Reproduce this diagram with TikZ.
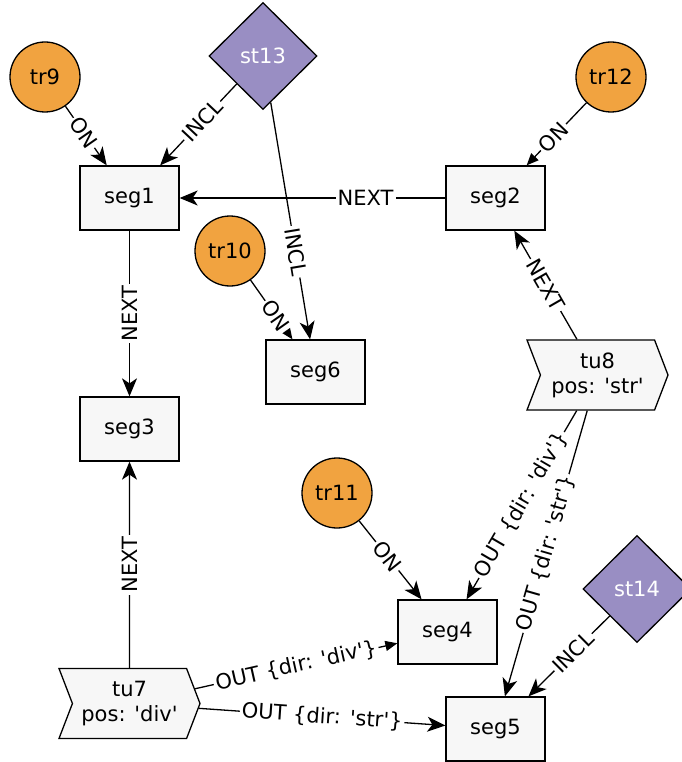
\documentclass[tikz,border=0pt]{standalone}
\usepackage{fontspec}
\setmainfont{DejaVu Sans}
\usetikzlibrary{arrows.meta,shapes.geometric,shapes.symbols}
\definecolor{trorange}{HTML}{F1A340}
\definecolor{stpurple}{HTML}{998EC3}
\definecolor{segfill}{HTML}{F7F7F7}
\newcommand{\qs}{\textquotesingle}
\tikzset{
  txt/.style={font=\fontsize{21}{25}\selectfont},
  seg/.style={draw=black, fill=segfill, rectangle, minimum width=99pt, minimum height=64pt, txt},
  tr/.style={draw=black, fill=trorange, circle, minimum size=70pt, inner sep=0pt, txt},
  st/.style={draw=black, fill=stpurple, diamond, minimum width=108pt, minimum height=107pt, inner sep=0pt, text=white, txt},
  tu/.style={draw=black, fill=segfill, signal, signal to=east, signal from=west, signal pointer angle=138, minimum width=141pt, minimum height=70pt, inner sep=2pt, align=center, txt},
  elab/.style={fill=white, inner sep=2pt, txt},
  vee/.style={-{Stealth[length=18pt,width=15pt,inset=5pt]}},
  tri/.style={-{Triangle[length=12pt,width=10pt]}},
}

\begin{document}
\begin{tikzpicture}[x=1pt, y=1pt, line width=1.3pt]
      \useasboundingbox (0,0) rectangle (681,-762);

      \node[tr, name=tr9] at (45,-77) {tr9};
      \node[st, name=st13] at (263,-56) {st13};
      \node[tr, name=tr12] at (611,-77) {tr12};
      \node[seg, name=seg1] at (129.5,-198) {seg1};
      \node[seg, name=seg2] at (495.5,-198) {seg2};
      \node[tr, name=tr10] at (230,-251) {tr10};
      \node[seg, name=seg6] at (315.5,-372) {seg6};
      \node[seg, name=seg3] at (129.5,-429) {seg3};
      \node[tu, name=tu8] at (597.5,-375) {tu8\\pos: \qs str\qs};
      \node[tr, name=tr11] at (337,-493) {tr11};
      \node[st, name=st14] at (637,-589) {st14};
      \node[seg, name=seg4] at (447.5,-632) {seg4};
      \node[tu, name=tu7] at (129.5,-703.5) {tu7\\pos: \qs div\qs};
      \node[seg, name=seg5] at (495.5,-729) {seg5};

      \path[vee]
         (tr9) edge node[elab, sloped, pos=.45] {ON} (seg1)
         (st13) edge node[elab, sloped, pos=.45] {INCL} (seg1)
         (seg2) edge node[elab, pos=.3] {NEXT} (seg1)
         (seg1) edge node[elab, rotate=90] {NEXT} (seg3)
         (st13) edge node[elab, sloped, pos=.63] {INCL} (seg6)
         (tu8) edge node[elab, sloped] {NEXT} (seg2)
         (tu8) edge node[elab, sloped] {OUT \{dir: \qs div\qs\}} (seg4)
         (tu8) edge node[elab, sloped] {OUT \{dir: \qs str\qs\}} (seg5)
         (tr11) edge node[elab, sloped, pos=.45] {ON} (seg4)
         (st14) edge node[elab, sloped, pos=.45] {INCL} (seg5)
         (tu7) edge node[elab, rotate=90] {NEXT} (seg3)
         (tu7) edge node[elab, sloped] {OUT \{dir: \qs str\qs\}} (seg5);
      \path[tri]
         (tr12) edge node[elab, sloped, pos=.55] {ON} (seg2)
         (tr10) edge node[elab, sloped, pos=.6] {ON} (seg6)
         (tu7) edge node[elab, sloped] {OUT \{dir: \qs div\qs\}} (seg4);
   \end{tikzpicture}
\end{document}
